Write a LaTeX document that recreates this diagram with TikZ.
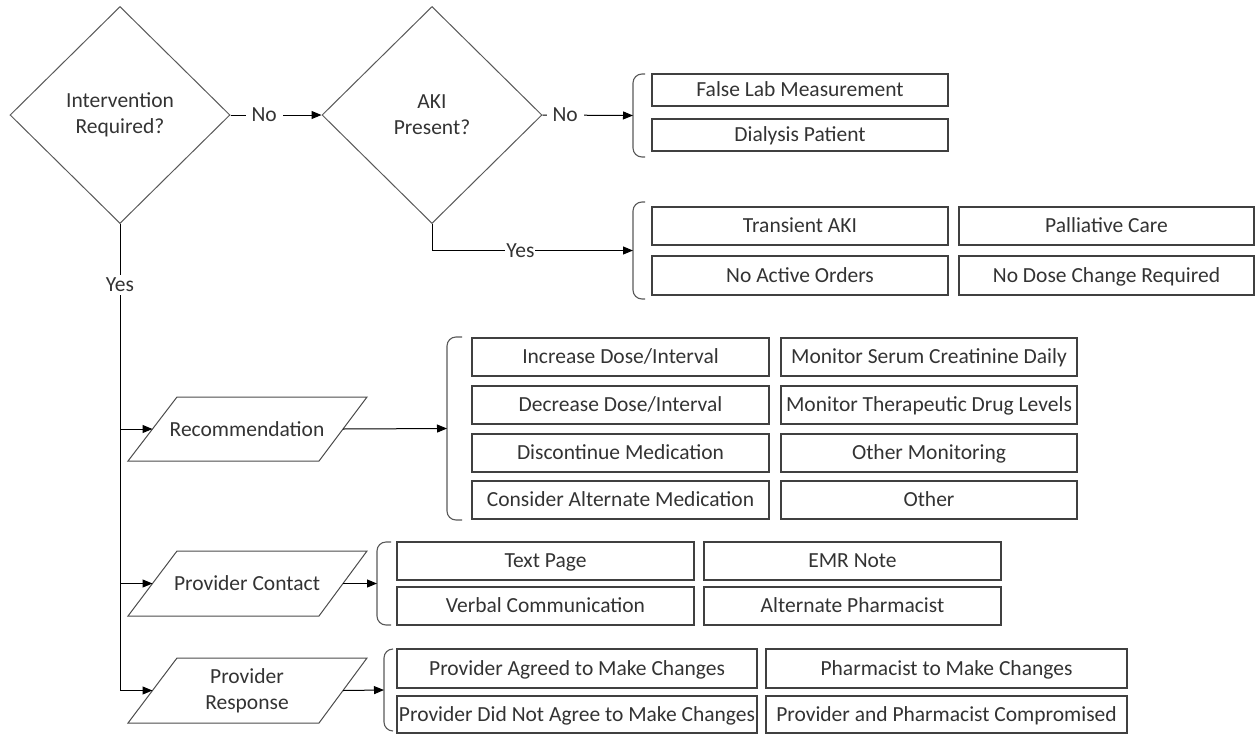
\documentclass[tikz,border=0pt]{standalone}
\usepackage{fontspec}
\setmainfont{Carlito}
\usetikzlibrary{shapes.geometric,arrows.meta}
\begin{document}
\begin{tikzpicture}[x=1pt,y=-1pt,
  every node/.style={font=\fontsize{21.5}{26}\selectfont, text=black!80},
  optbox/.style={draw=black!75, line width=1.1pt, inner sep=0pt, align=center, text height=15pt, text depth=2pt},
  decision/.style={draw=black!65, line width=1pt, diamond, inner sep=0pt, minimum width=220pt, minimum height=217pt, align=center},
  parshape/.style={draw=black!70, line width=1pt},
  conn/.style={line width=1pt, draw=black},
  arr/.style={conn, -{Triangle[length=10pt,width=8pt]}},
  brk/.style={draw=black!65, line width=1.1pt, rounded corners=9pt},
  lbl/.style={fill=white, inner xsep=6pt, inner ysep=1pt}
]
\useasboundingbox (0,0) rectangle (1256,734);

% decisions
\node[decision] (d1) at (120,115) {Intervention\\Required?};
\node[decision] (d2) at (432,115) {AKI\\Present?};

% brackets
\draw[brk] (645,74) -- (633,74) -- (633,157) -- (645,157);
\coordinate (b1m) at (633,115.5);
\draw[brk] (645,202) -- (633,202) -- (633,299) -- (645,299);
\coordinate (b2m) at (633,250.5);
\draw[brk] (462,337) -- (447,337) -- (447,520) -- (462,520);
\coordinate (b3m) at (447,428.5);
\draw[brk] (391,542) -- (377,542) -- (377,625) -- (391,625);
\coordinate (b4m) at (377,583.5);
\draw[brk] (393,649) -- (384,649) -- (384,731) -- (393,731);
\coordinate (b5m) at (384,690);

% AKI no
\node[optbox, minimum width=296pt, minimum height=32pt] (fl) at (800,90) {False Lab Measurement};
\node[optbox, minimum width=296pt, minimum height=32pt] (dp) at (800,135) {Dialysis Patient};
% AKI yes
\node[optbox, minimum width=296pt, minimum height=38pt] (ta) at (800,226) {Transient AKI};
\node[optbox, minimum width=295pt, minimum height=38pt] (pc) at (1106.5,226) {Palliative Care};
\node[optbox, minimum width=296pt, minimum height=39pt] (nao) at (800,275.5) {No Active Orders};
\node[optbox, minimum width=295pt, minimum height=39pt] (ndc) at (1106.5,275.5) {No Dose Change Required};

% recommendation options
\node[optbox, minimum width=297pt, minimum height=38pt] (inc) at (620.5,357) {Increase Dose/Interval};
\node[optbox, minimum width=296pt, minimum height=38pt] (msc) at (929,357) {Monitor Serum Creatinine Daily};
\node[optbox, minimum width=297pt, minimum height=38pt] (dec) at (620.5,405) {Decrease Dose/Interval};
\node[optbox, minimum width=296pt, minimum height=38pt] (mtd) at (929,405) {Monitor Therapeutic Drug Levels};
\node[optbox, minimum width=297pt, minimum height=38pt] (dis) at (620.5,453) {Discontinue Medication};
\node[optbox, minimum width=296pt, minimum height=38pt] (omo) at (929,453) {Other Monitoring};
\node[optbox, minimum width=297pt, minimum height=38pt] (cam) at (620.5,500) {Consider Alternate Medication};
\node[optbox, minimum width=296pt, minimum height=38pt] (oth) at (929,500) {Other};

% contact options
\node[optbox, minimum width=297pt, minimum height=38pt] (tp) at (545.5,561) {Text Page};
\node[optbox, minimum width=297pt, minimum height=38pt] (emr) at (852.5,561) {EMR Note};
\node[optbox, minimum width=297pt, minimum height=38pt] (vc) at (545.5,606) {Verbal Communication};
\node[optbox, minimum width=297pt, minimum height=38pt] (ap) at (852.5,606) {Alternate Pharmacist};

% response options
\node[optbox, minimum width=360pt, minimum height=39pt] (pa) at (577,668.5) {Provider Agreed to Make Changes};
\node[optbox, minimum width=361pt, minimum height=39pt] (pm) at (946.5,668.5) {Pharmacist to Make Changes};
\node[optbox, minimum width=360pt, minimum height=37pt] (pn) at (577,714.5) {Provider Did Not Agree to Make Changes};
\node[optbox, minimum width=361pt, minimum height=37pt] (ppc) at (946.5,714.5) {Provider and Pharmacist Compromised};

% parallelograms
\draw[parshape] (128,461) -- (177,397) -- (367,397) -- (319,461) -- cycle;
\node (rec) at (247,429) {Recommendation};
\coordinate (recL) at (152.5,429);
\coordinate (recR) at (343,429);
\draw[parshape] (128,616) -- (177,551) -- (367,551) -- (319,616) -- cycle;
\node (con) at (247,583.5) {Provider Contact};
\coordinate (conL) at (152.5,583.5);
\coordinate (conR) at (343,583.5);
\draw[parshape] (128,723) -- (177,658) -- (367,658) -- (319,723) -- cycle;
\node[align=center] (res) at (247,690.5) {Provider\\Response};
\coordinate (resL) at (152.5,690.5);
\coordinate (resR) at (343,690.5);

% connectors
\draw[arr] (d1.east) -- (d2.west) node[lbl, pos=0.37] {No};
\draw[arr] (d2.east) -- (b1m) node[lbl, pos=0.25] {No};
\draw[arr] (d2.south) |- (b2m) node[lbl, inner xsep=1pt, pos=0.72] {Yes};

\coordinate (j1) at (120,429);
\coordinate (j2) at (120,583.5);
\coordinate (j3) at (120,690.5);
\draw[conn] (d1.south) -- (j3) node[lbl, inner xsep=1pt, inner ysep=3pt, pos=0.13] {Yes};
\draw[arr] (j3) -- (resL);
\draw[arr] (j1) -- (recL);
\draw[arr] (j2) -- (conL);

\draw[arr] (recR) -- (b3m);
\draw[arr] (conR) -- (b4m);
\draw[arr] (resR) -- (b5m);
\end{tikzpicture}
\end{document}
